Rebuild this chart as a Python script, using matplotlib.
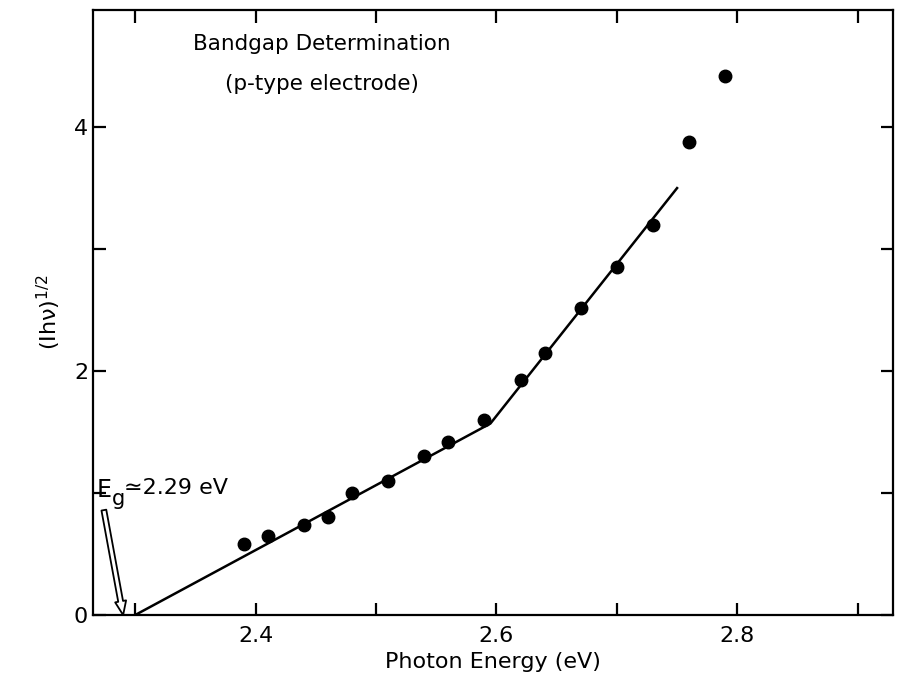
import numpy as np
from matplotlib import pyplot as plt
from matplotlib.ticker import FixedLocator, NullFormatter

# datos
energia = [2.39, 2.41, 2.44, 2.46, 2.48, 2.51, 2.54, 2.56, 2.59,
           2.62, 2.64, 2.67, 2.70, 2.73, 2.76, 2.79]
raiz = [0.58, 0.65, 0.74, 0.80, 1.00, 1.10, 1.30, 1.42, 1.60,
        1.93, 2.15, 2.52, 2.85, 3.20, 3.88, 4.42]

# recta de ajuste (dos tramos)
ajuste_x = [2.30, 2.595, 2.75]
ajuste_y = [0.0, 1.57, 3.50]

Eg = 2.29

fig = plt.figure(figsize=(8.98, 7.0), dpi=100)
ax = fig.add_axes([0.1036, 0.1214, 0.8904, 0.8643])

ax.plot(ajuste_x, ajuste_y, color='black', lw=1.8)
ax.plot(energia, raiz, 'o', color='black', ms=9)

ax.set_xlim(2.265, 2.929)
ax.set_ylim(0, 4.96)

ax.xaxis.set_major_locator(FixedLocator([2.4, 2.6, 2.8]))
ax.xaxis.set_minor_locator(FixedLocator([2.3, 2.5, 2.7, 2.9]))
ax.yaxis.set_major_locator(FixedLocator([0, 2, 4]))
ax.yaxis.set_minor_locator(FixedLocator([1, 3]))
ax.xaxis.set_minor_formatter(NullFormatter())
ax.set_xticklabels(['2.4', '2.6', '2.8'])
ax.set_yticklabels(['0', '2', '4'])

ax.tick_params(which='both', direction='in', top=True, right=True,
               length=9, width=1.6, labelsize=16)
ax.tick_params(axis='x', pad=8)
for s in ax.spines.values():
    s.set_linewidth(1.6)

ax.set_xlabel('Photon Energy (eV)', fontsize=16, labelpad=4)
ax.set_ylabel('(Ihν)$^{1/2}$', fontsize=16, labelpad=8)

ax.text(2.455, 4.68, 'Bandgap Determination', fontsize=15.5, ha='center', va='center')
ax.text(2.455, 4.35, '(p-type electrode)', fontsize=15.5, ha='center', va='center')

# etiqueta Eg con la g casi a tamano normal
ancla = (2.268, 0.97)
ax.annotate('E', xy=ancla, xytext=(0, 0), textcoords='offset points',
            fontsize=17, ha='left', va='baseline')
ax.annotate('g', xy=ancla, xytext=(11, -6), textcoords='offset points',
            fontsize=15, ha='left', va='baseline')
ax.annotate('≃2.29 eV', xy=ancla, xytext=(20, 2), textcoords='offset points',
            fontsize=16, ha='left', va='baseline')
ax.annotate('', xy=(Eg, 0.0), xytext=(2.274, 0.86),
            arrowprops=dict(arrowstyle='simple,head_width=0.8,head_length=1.0,tail_width=0.35',
                            fc='white', ec='black', lw=1.3, shrinkA=0, shrinkB=0))

plt.savefig('out.png', dpi=100)
